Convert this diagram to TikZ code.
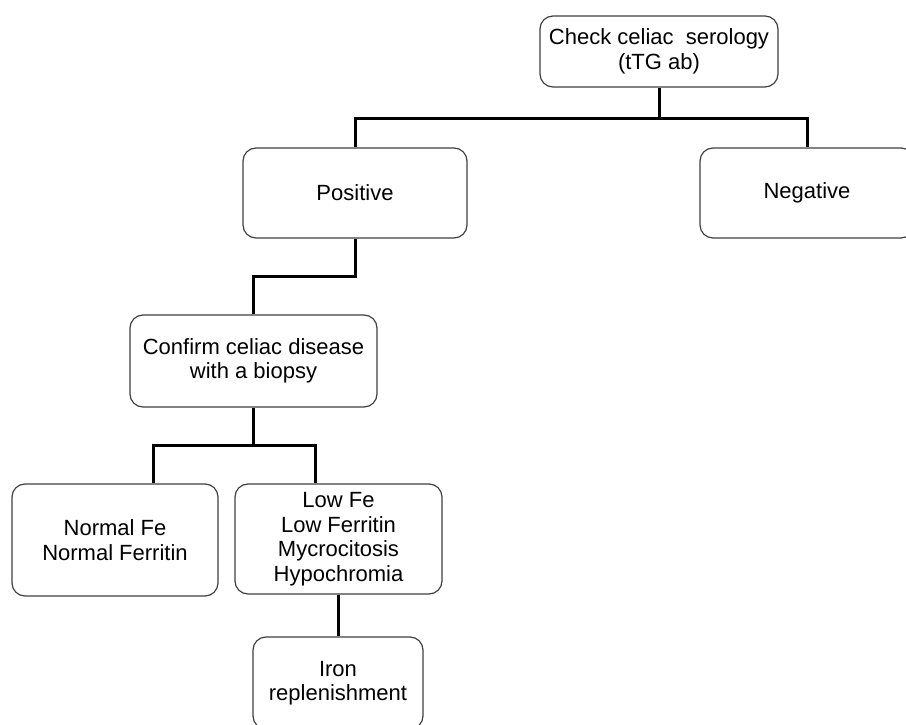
\documentclass[tikz,border=0pt]{standalone}
\usepackage{fontspec}
\setmainfont{Liberation Sans}
\begin{document}
\begin{tikzpicture}[x=1pt,y=-1pt,
  box/.style={draw=black!75, line width=1.2pt, rounded corners=13pt, fill=white,
    align=center, inner sep=0pt, font=\fontsize{22}{24.5}\selectfont},
  conn/.style={draw=black, line width=3pt}]
\useasboundingbox[fill=white] (0,0) rectangle (906,725);
\node[box, minimum width=238, minimum height=71] (top) at (659,51.5) {Check celiac\ \ serology\\(tTG ab)};
\node[box, minimum width=224, minimum height=90] (pos) at (355,193) {Positive};
\node[box, minimum width=214, minimum height=90] (neg) at (807,193) {Negative};
\node[box, minimum width=247, minimum height=92] (conf) at (253.5,361) {Confirm celiac disease\\with a biopsy};
\node[box, minimum width=206, minimum height=112] (norm) at (115,540) {Normal Fe\\Normal Ferritin};
\node[box, minimum width=207, minimum height=110] (low) at (338.5,539) {Low Fe\\Low Ferritin\\Mycrocitosis\\Hypochromia};
\node[box, minimum width=170, minimum height=92] (iron) at (338,683) {Iron\\replenishment};
\draw[conn] (top.south) -- ++(0,31) coordinate (j1);
\draw[conn] (pos.north) |- (j1) -| (neg.north);
\draw[conn] (pos.south) -- ++(0,38) -| (conf.north);
\draw[conn] (conf.south) -- ++(0,38) coordinate (j3);
\draw[conn] ([xshift=38pt]norm.north) |- (j3) -| ([xshift=-23.5pt]low.north);
\draw[conn] (low.south) -- (low.south |- iron.north);
\end{tikzpicture}
\end{document}
